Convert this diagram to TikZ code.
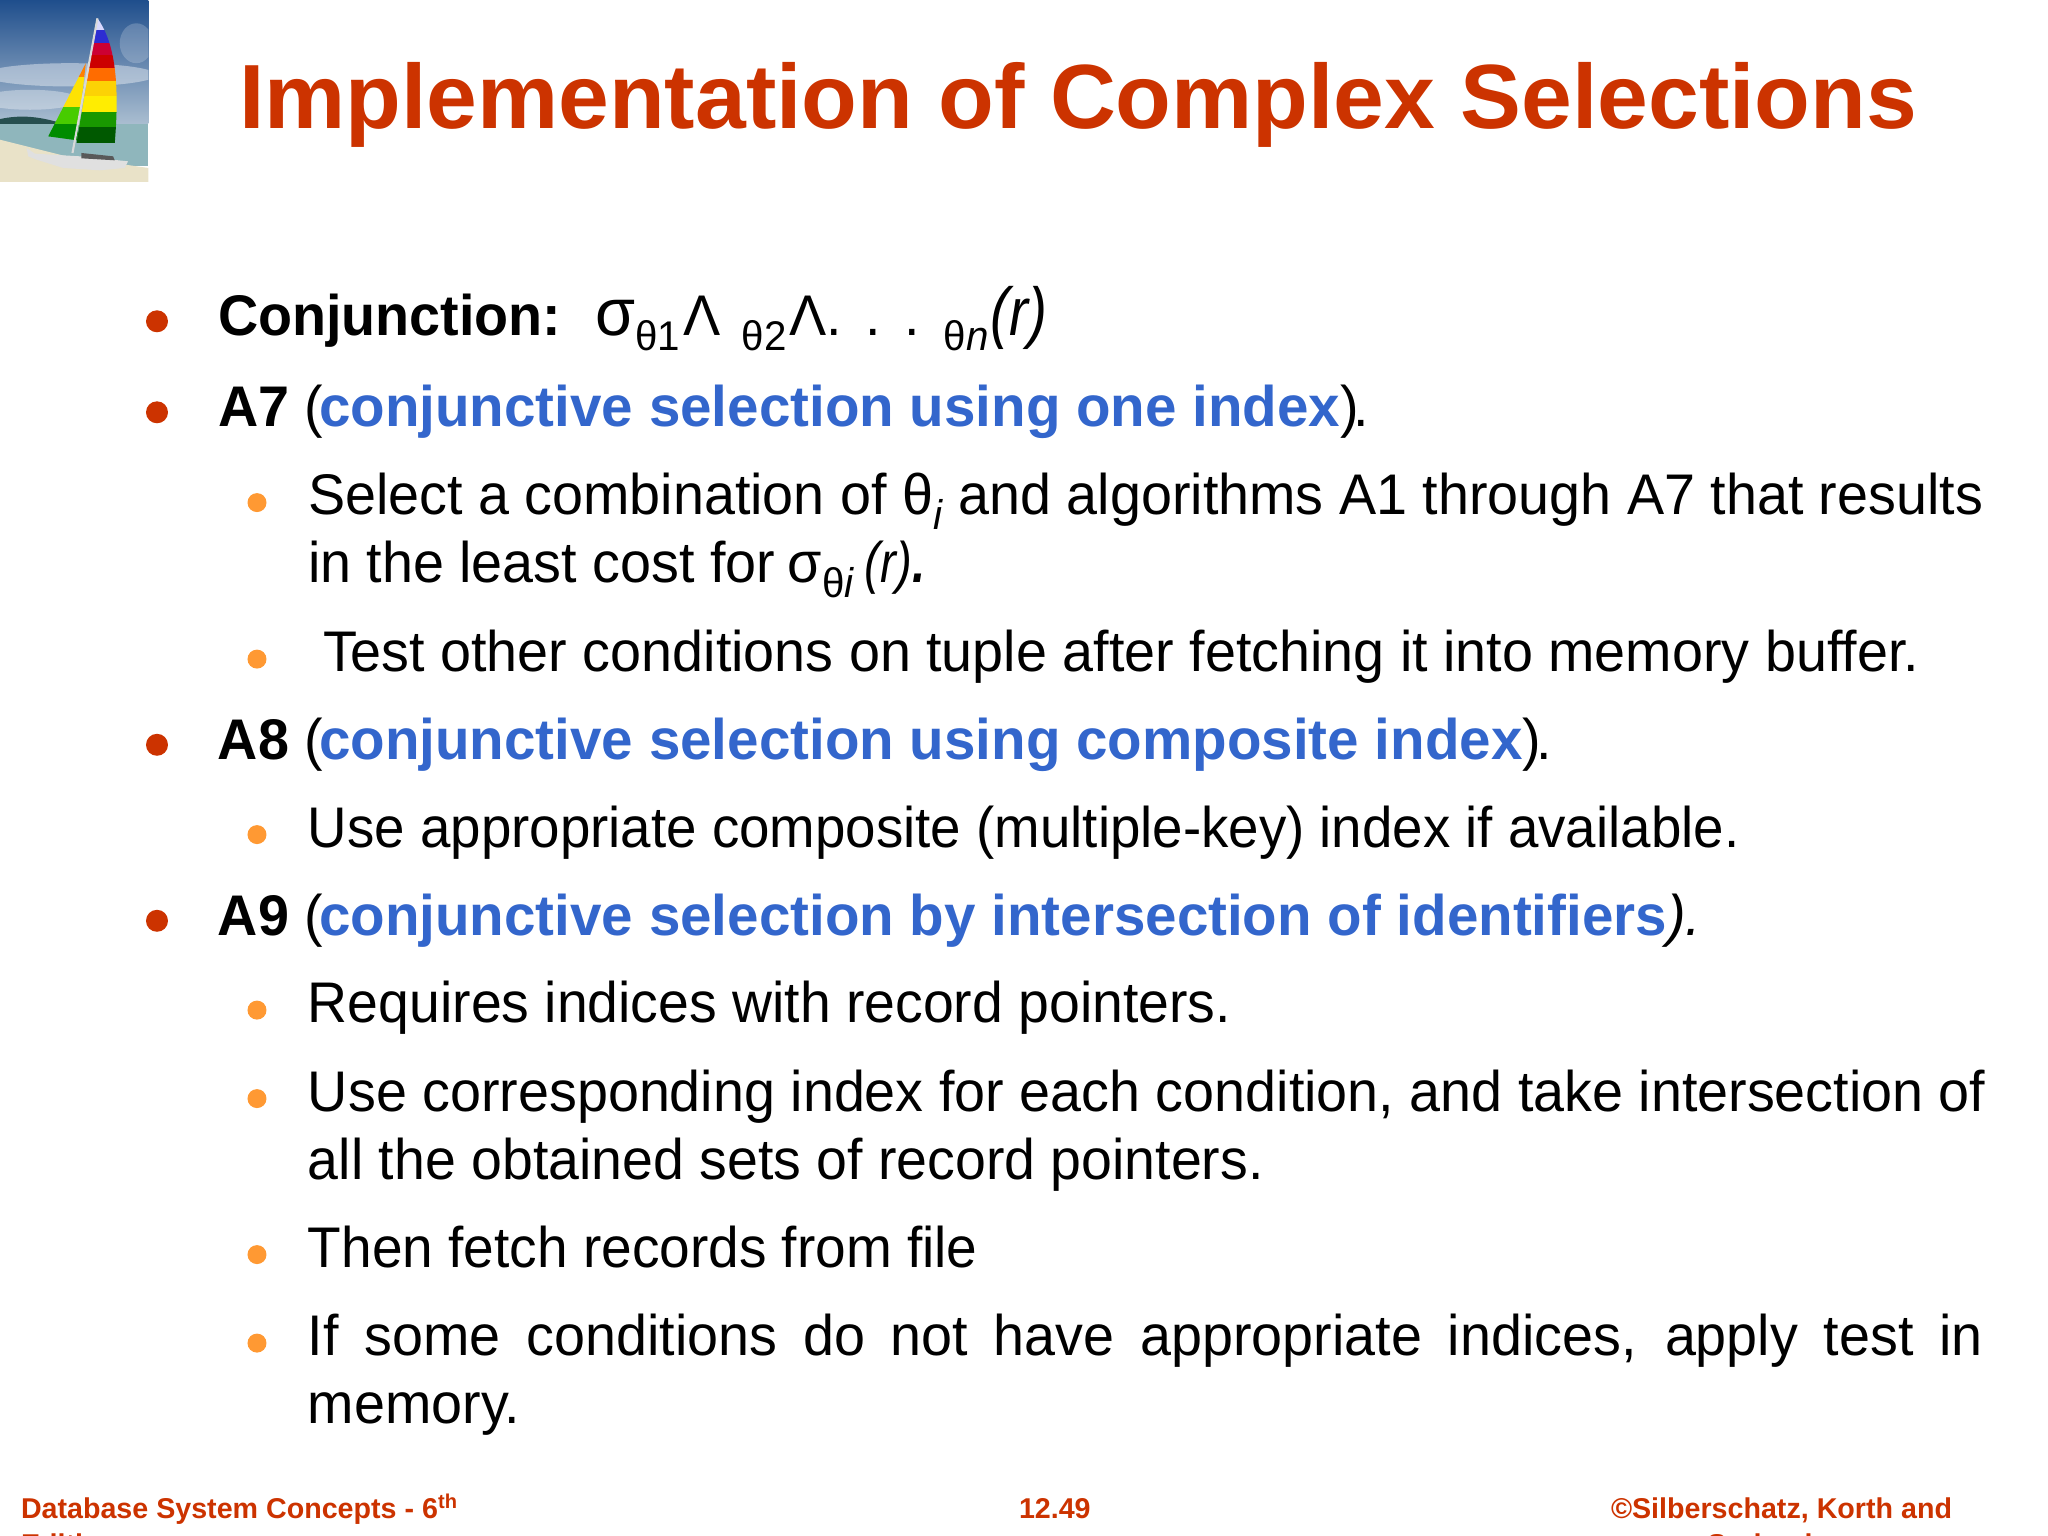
\documentclass[tikz,border=0pt]{standalone}
\usepackage{fontspec}
\setmainfont[FakeStretch=0.972]{Liberation Sans}
\newfontfamily\plainfont{Liberation Sans}
\newfontfamily\headfont[FakeStretch=0.987]{Liberation Sans}
\usepackage{xcolor}
\usetikzlibrary{positioning}

\definecolor{titlered}{HTML}{CC3300}
\definecolor{headblue}{HTML}{3366CC}
\definecolor{dotorange}{HTML}{FF9933}
\definecolor{skytop}{HTML}{1F4E8C}
\definecolor{skymid}{HTML}{5480B4}
\definecolor{skylow}{HTML}{A9BDD0}
\definecolor{seablue}{HTML}{8FB6BC}
\definecolor{sandlight}{HTML}{E9E2C8}

\newcommand{\lowtxt}[1]{\raisebox{-0.26em}{\fontsize{11.8}{14}\selectfont #1}}
\newcommand{\bigsigma}{{\fontsize{19}{19}\selectfont σ}}
\newcommand{\bigarg}{{\fontsize{19.3}{19}\selectfont\scalebox{0.86}[1]{\textit{(r)}}}}
\newcommand{\bluehead}[1]{\kern -0.04cm\textcolor{headblue}{\headfont\bfseries #1}}

\begin{document}
\begin{tikzpicture}[
    every node/.style={inner sep=0pt, outer sep=0pt},
    slidetitle/.style={anchor=base west, text=titlered, font=\fontsize{25.96}{30}\plainfont\selectfont\bfseries},
    itemtext/.style={anchor=base west, text=black, font=\fontsize{16.3}{19}\selectfont},
    reddot/.style={circle, fill=titlered, minimum size=0.22cm},
    orangedot/.style={circle, fill=dotorange, minimum size=0.19cm},
    footer/.style={text=titlered, font=\fontsize{8.15}{9.65}\plainfont\selectfont\bfseries}
]
\useasboundingbox (0,0) rectangle (20.48,-15.36);

% Sailboat picture
\begin{scope}[x=0.003333cm, y=-0.003333cm]
  \clip (0,0) rectangle (446,547);
  \shade[top color=skytop, middle color=skymid, bottom color=skylow] (0,0) rectangle (446,370);
  \fill[white, opacity=0.4] (210,225) ellipse (260 and 35);
  \fill[white, opacity=0.35] (90,300) ellipse (150 and 30);
  \fill[white, opacity=0.2] (410,130) ellipse (50 and 60);
  \fill[black!55!teal!70!gray] (0,378) -- (0,358) .. controls (60,345) and (110,350) .. (170,366) -- (170,378) -- cycle;
  \fill[seablue] (0,372) rectangle (446,500);
  \fill[sandlight] (0,420) -- (200,470) -- (446,505) -- (446,547) -- (0,547) -- cycle;
  % jib
  \begin{scope}
    \clip (258,190) -- (145,410) -- (232,422) -- cycle;
    \fill[orange] (130,190) rectangle (260,232);
    \fill[yellow!85!orange] (130,232) rectangle (260,322);
    \fill[green!65!yellow!80!black] (130,322) rectangle (260,372);
    \fill[green!55!black] (130,372) rectangle (260,425);
  \end{scope}
  % main sail
  \begin{scope}
    \clip (293,55) .. controls (340,120) and (362,230) .. (345,430) -- (230,430) -- cycle;
    \fill[blue!15!white] (220,50) rectangle (370,90);
    \fill[blue!65!gray] (220,90) rectangle (370,130);
    \fill[purple!80!red] (220,130) rectangle (370,165);
    \fill[red!80!black] (220,165) rectangle (370,205);
    \fill[orange!85!red] (220,205) rectangle (370,245);
    \fill[yellow!70!orange] (220,245) rectangle (370,290);
    \fill[yellow!95!orange] (220,290) rectangle (370,338);
    \fill[green!55!black!90!yellow] (220,338) rectangle (370,383);
    \fill[green!35!black] (220,383) rectangle (370,430);
  \end{scope}
  \draw[black!15, line width=0.6pt] (293,55) -- (218,460);
  \fill[black!12] (80,445) -- (105,462) -- (240,470) -- (385,485) -- (375,505) -- (300,512) -- (190,505) -- (110,480) -- (85,470) -- cycle;
  \fill[black!65] (245,460) -- (340,470) -- (345,482) -- (245,476) -- cycle;
\end{scope}

% Title
\node (title) [slidetitle] at (2.39,-1.285) {Implementation of Complex Selections};

% Conjunction and A7
\node (conj) [itemtext] at (2.18,-3.36) {\textbf{Conjunction:}\ \ \kern 0.03cm\bigsigma\lowtxt{θ1}\kern 0.03cmΛ\kern 0.06cm\ \lowtxt{θ2}\kern 0.03cmΛ.\kern 0.08cm\ .\kern 0.08cm\ .\kern 0.08cm\ \lowtxt{θ\textit{n}}\kern 0.02cm\bigarg};
\node (conjdot) [reddot, left=0.5cm of conj.base west, yshift=0.147cm] {};
\node (afirst) [itemtext, below=0.91cm of conj.base west, anchor=base west] {\textbf{A7} (\bluehead{conjunctive selection using one index})\kern -0.05cm.};
\node (afirstdot) [reddot, left=0.5cm of afirst.base west, yshift=0.147cm] {};
\node (selecta) [itemtext, below=0.88cm of afirst.base west, anchor=base west, xshift=0.9cm] {Select a combination of θ\lowtxt{\textit{i}} and algorithms A1 through A7 that results};
\node (selectadot) [orangedot, left=0.415cm of selecta.base west, yshift=0.124cm] {};
\node (selectb) [itemtext, below=0.68cm of selecta.base west, anchor=base west] {in the least cost for\kern -0.03cm\ σ\lowtxt{θ\textit{i}}\kern -0.05cm\ \scalebox{0.85}[1]{\textit{(r)}\textbf{\textit{.}}}};
\node (testo) [itemtext, below=0.885cm of selectb.base west, anchor=base west, xshift=0.15cm] {Test other conditions on tuple after fetching it into memory buffer.};
\node (testodot) [orangedot, left=0.565cm of testo.base west, yshift=0.124cm] {};

% A8
\node (asecond) [itemtext, below=0.88cm of testo.base west, anchor=base west, xshift=-1.05cm] {\textbf{A8} (\bluehead{conjunctive selection using composite index})\kern -0.05cm.};
\node (aseconddot) [reddot, left=0.5cm of asecond.base west, yshift=0.147cm] {};
\node (usecomp) [itemtext, below=0.875cm of asecond.base west, anchor=base west, xshift=0.9cm] {\scalebox{0.982}[1]{Use appropriate composite (multiple-key) index if available.}};
\node (usecompdot) [orangedot, left=0.415cm of usecomp.base west, yshift=0.124cm] {};

% A9
\node (athird) [itemtext, below=0.885cm of usecomp.base west, anchor=base west, xshift=-0.9cm] {\textbf{A9} (\bluehead{conjunctive selection by intersection of identifiers}\textit{).}};
\node (athirddot) [reddot, left=0.5cm of athird.base west, yshift=0.147cm] {};
\node (requires) [itemtext, below=0.87cm of athird.base west, anchor=base west, xshift=0.9cm] {\scalebox{0.994}[1]{Requires indices with record pointers.}};
\node (requiresdot) [orangedot, left=0.415cm of requires.base west, yshift=0.124cm] {};
\node (usecorra) [itemtext, below=0.885cm of requires.base west, anchor=base west] {Use corresponding index for each condition, and take intersection of};
\node (usecorradot) [orangedot, left=0.415cm of usecorra.base west, yshift=0.124cm] {};
\node (usecorrb) [itemtext, below=0.685cm of usecorra.base west, anchor=base west] {\scalebox{0.996}[1]{all the obtained sets of record pointers.}};
\node (fetch) [itemtext, below=0.875cm of usecorrb.base west, anchor=base west] {\scalebox{0.988}[1]{Then fetch records from file}};
\node (fetchdot) [orangedot, left=0.415cm of fetch.base west, yshift=0.124cm] {};
\node (ifsome) [itemtext, below=0.885cm of fetch.base west, anchor=base west] {\makebox[16.75cm][s]{If some conditions do not have appropriate indices, apply test in}};
\node (ifsomedot) [orangedot, left=0.415cm of ifsome.base west, yshift=0.124cm] {};
\node (memory) [itemtext, below=0.68cm of ifsome.base west, anchor=base west] {memory.};

% Footer
\node (footleft) [footer, anchor=base west] at (0.21,-15.18) {Database System Concepts - 6\textsuperscript{th}};
\node (footleftb) [footer, below=0.36cm of footleft.base west, anchor=base west] {Edition};
\node (footmid) [footer, anchor=base west] at (10.19,-15.18) {12.49};
\node (footright) [footer, anchor=base west] at (16.11,-15.18) {©Silberschatz, Korth and};
\node (footrightb) [footer, below=0.36cm of footright.base, anchor=base] {Sudarshan};
\end{tikzpicture}
\end{document}
